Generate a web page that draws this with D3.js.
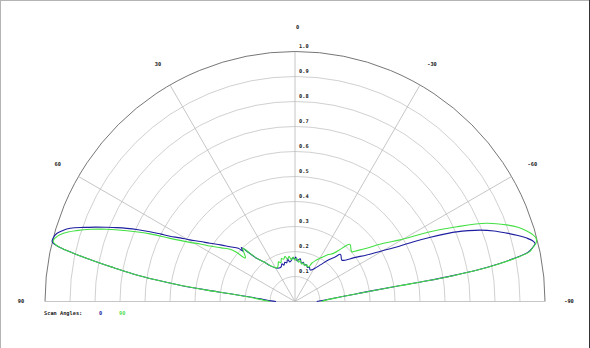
<!DOCTYPE html>
<html>
<head>
<meta charset="utf-8">
<script src="https://cdn.jsdelivr.net/npm/d3@7/dist/d3.min.js"></script>
<style>
  html, body { margin: 0; padding: 0; background: #fff; }
  svg text { font-family: "DejaVu Sans Mono", monospace; font-size: 5.3px; font-weight: bold; fill: #222; }
</style>
</head>
<body>
<div id="chart"></div>
<script>
// angles in degrees, positive to the left of broadside
const angleTicks = [90, 60, 30, 0, -30, -60, -90];
const radiusTicks = [0.1, 0.2, 0.3, 0.4, 0.5, 0.6, 0.7, 0.8, 0.9, 1.0];
const radiusLabels = ['0.1', '0.2', '0.3', '0.4', '0.5', '0.6', '0.7', '0.8', '0.9', '1.0'];
const scanAngles = ['0', '90'];
const scanColors = ['#1e1ea0', '#44e044'];

// scan angle 0
const theta0 = [90, 88.5, 86.5, 84.5, 83.2, 82.6, 82.0, 81.2, 80.3, 79.4, 78.6, 77.8, 77.2, 76.7, 76.2, 75.2, 74.0, 73.2, 72.4, 71.5, 70.7, 69.5, 68.5, 67.5, 66.5, 65.4, 64.3, 63.3, 62.4, 61.0, 59.6, 57.6, 55.6, 52.7, 49.9, 46.8, 46.0, 44.8, 43.5, 41.6, 38.0, 34.9, 30.6, 27, 24, 21.5, 19, 17, 14.5, 12, 10, 7.5, 5, 3, 1, -1, -3, -5, -7, -9.5, -12, -14.5, -17, -20, -23, -25.5, -27.9, -31, -35, -39, -42, -44, -48.4, -50, -53.5, -57, -60, -62.1, -63.3, -64.6, -65.7, -66.7, -67.8, -68.9, -70.5, -72.1, -73.5, -74.7, -75.6, -76.4, -77.2, -78, -78.8, -79.6, -80.2, -80.7, -81.1, -81.4, -82, -83, -85, -87.5, -90];
const gain0 = [0.076, 0.095, 0.125, 0.175, 0.26, 0.36, 0.46, 0.56, 0.66, 0.74, 0.82, 0.90, 0.955, 0.985, 1.0, 1.0, 0.99, 0.975, 0.958, 0.93, 0.897, 0.85, 0.81, 0.772, 0.734, 0.69, 0.644, 0.60, 0.564, 0.525, 0.487, 0.448, 0.412, 0.374, 0.34, 0.311, 0.29, 0.305, 0.27, 0.231, 0.2, 0.175, 0.157, 0.15, 0.148, 0.15, 0.16, 0.152, 0.162, 0.158, 0.172, 0.16, 0.165, 0.176, 0.17, 0.178, 0.162, 0.168, 0.172, 0.155, 0.16, 0.15, 0.155, 0.145, 0.148, 0.14, 0.143, 0.155, 0.18, 0.215, 0.24, 0.262, 0.25, 0.256, 0.295, 0.342, 0.408, 0.475, 0.535, 0.60, 0.655, 0.704, 0.75, 0.793, 0.845, 0.89, 0.93, 0.961, 0.98, 0.988, 0.975, 0.955, 0.90, 0.82, 0.74, 0.64, 0.53, 0.42, 0.32, 0.24, 0.16, 0.115, 0.087];

// scan angle 90
const theta90 = [90, 88.5, 86.5, 84.5, 83.2, 82.6, 82.0, 81.2, 80.3, 79.4, 78.6, 77.8, 77.2, 76.6, 76.0, 75.2, 73.6, 72.0, 70.5, 69.0, 67.2, 65.0, 63.2, 60.6, 58.7, 56.9, 54.0, 51.2, 50.0, 48.7, 44.5, 43.0, 41.6, 38, 35, 31, 28, 25, 22.5, 20, 17.5, 15, 12.5, 10, 7.5, 5, 2.5, 0, -2.5, -5, -7.5, -10, -12.5, -15, -17.5, -20, -22, -23.6, -27, -31, -35, -38.5, -41.5, -43.9, -48.7, -51, -53.4, -56.5, -59.6, -62.7, -65.2, -67.8, -70.1, -71.6, -73.1, -74.3, -75.3, -76.4, -77.2, -78, -78.8, -79.6, -80.2, -80.7, -81.1, -81.4, -82, -83, -85, -87.5, -90];
const gain90 = [0.10, 0.115, 0.14, 0.185, 0.265, 0.36, 0.46, 0.56, 0.66, 0.74, 0.82, 0.90, 0.955, 0.985, 0.997, 0.993, 0.966, 0.918, 0.865, 0.807, 0.73, 0.64, 0.56, 0.482, 0.443, 0.406, 0.365, 0.333, 0.31, 0.264, 0.298, 0.262, 0.232, 0.2, 0.176, 0.16, 0.152, 0.16, 0.172, 0.165, 0.18, 0.175, 0.185, 0.172, 0.182, 0.168, 0.178, 0.165, 0.172, 0.158, 0.165, 0.152, 0.158, 0.148, 0.155, 0.148, 0.15, 0.167, 0.185, 0.205, 0.228, 0.246, 0.285, 0.317, 0.302, 0.325, 0.357, 0.42, 0.487, 0.608, 0.713, 0.828, 0.90, 0.94, 0.969, 0.988, 0.997, 0.992, 0.975, 0.96, 0.905, 0.825, 0.745, 0.645, 0.535, 0.425, 0.325, 0.245, 0.165, 0.125, 0.107];

const width = 590, height = 348;
const cx = 295, cy = 301.5, radius = 250;

let svg = d3.select('#chart').append('svg')
    .attr('width', width)
    .attr('height', height);

// frame
svg.append('line').attr('x1', 0.5).attr('y1', 0).attr('x2', 0.5).attr('y2', height).attr('stroke', '#b4b4b4');
svg.append('line').attr('x1', 0).attr('y1', 0.5).attr('x2', width).attr('y2', 0.5).attr('stroke', '#b4b4b4');
svg.append('line').attr('x1', width - 0.5).attr('y1', 0).attr('x2', width - 0.5).attr('y2', height).attr('stroke', '#333');

let rScale = d3.scaleLinear().domain([0, 1]).range([0, radius]);
let aScale = d3.scaleLinear().domain([-90, 90]).range([Math.PI / 2, -Math.PI / 2]);

let g = svg.append('g')
    .attr('transform', 'translate(' + cx + ',' + cy + ')');

// grid circles (upper half only)
g.selectAll('.ring')
    .data(radiusTicks)
    .enter().append('path')
    .attr('class', 'ring')
    .attr('fill', 'none')
    .attr('stroke', (d) => d === 1 ? '#666' : '#c4c4c4')
    .attr('stroke-width', (d) => d === 1 ? 0.9 : 0.8)
    .attr('d', (d) => {
        let p = d3.path();
        p.arc(0, 0, rScale(d), Math.PI, 2 * Math.PI);
        return p.toString();
    });

// spokes
g.selectAll('.spoke')
    .data(angleTicks)
    .enter().append('line')
    .attr('class', 'spoke')
    .attr('x1', 0).attr('y1', 0)
    .attr('x2', (d) => rScale(1) * Math.sin(aScale(d)))
    .attr('y2', (d) => -rScale(1) * Math.cos(aScale(d)))
    .attr('stroke', '#b8b8b8')
    .attr('stroke-width', 0.8);

// angle labels
g.selectAll('.alabel')
    .data(angleTicks)
    .enter().append('text')
    .attr('class', 'alabel')
    .attr('text-anchor', 'middle')
    .attr('dy', '0.35em')
    .attr('dx', (d) => d === 0 ? 2.5 : 0)
    .attr('x', (d) => rScale(1.096) * Math.sin(aScale(d)))
    .attr('y', (d) => -rScale(1.096) * Math.cos(aScale(d)))
    .text((d) => d);

// radius labels along the 0 spoke
g.selectAll('.rlabel')
    .data(radiusTicks)
    .enter().append('text')
    .attr('class', 'rlabel')
    .attr('x', 4)
    .attr('y', (d) => -rScale(d) - 3.3)
    .text((d, i) => radiusLabels[i]);

// patterns
let line = d3.lineRadial()
    .angle((d) => aScale(d[0]))
    .radius((d) => rScale(d[1]))
    .curve(d3.curveCatmullRom.alpha(0.5));

let series = [
    theta0.map((t, i) => [t, gain0[i]]),
    theta90.map((t, i) => [t, gain90[i]])
];

g.selectAll('.pattern')
    .data(series)
    .enter().append('path')
    .attr('class', 'pattern')
    .attr('fill', 'none')
    .attr('stroke', (d, i) => scanColors[i])
    .attr('stroke-width', 1.1)
    .attr('d', line);

// legend
let legend = svg.append('g').attr('transform', 'translate(44,314.5)');
legend.append('text').text('Scan Angles:');
legend.selectAll('.lg')
    .data(scanAngles)
    .enter().append('text')
    .attr('class', 'lg')
    .attr('x', (d, i) => 55 + i * 20)
    .style('fill', (d, i) => i === 0 ? '#2a2aa8' : '#55e055')
    .text((d) => d);
</script>
</body>
</html>
